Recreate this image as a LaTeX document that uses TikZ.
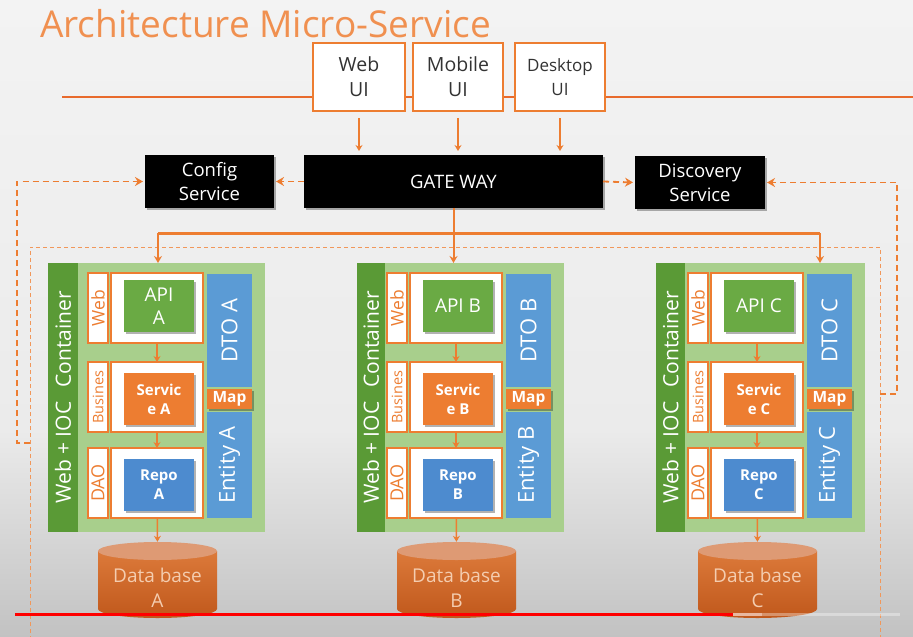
\documentclass[tikz,border=0pt]{standalone}
\usepackage{fontspec}
\setmainfont{Open Sans}
\usetikzlibrary{arrows.meta,shadows,calc,shapes.geometric}
\definecolor{orx}{HTML}{ED7D31}
\definecolor{titlec}{HTML}{F09050}
\definecolor{lineor}{HTML}{E86A2C}
\definecolor{gdark}{HTML}{5A9A36}
\definecolor{glight}{HTML}{A8CF8C}
\definecolor{gapi}{HTML}{6AAA44}
\definecolor{mblue}{HTML}{5B9BD5}
\definecolor{rblue}{HTML}{4D8BCF}
\definecolor{dbtopc}{HTML}{DC7A3A}
\definecolor{dbbotc}{HTML}{C0581C}
\definecolor{dbcapc}{HTML}{DE9A74}
\definecolor{dbtextc}{HTML}{F4CDB0}
\definecolor{bgtop}{HTML}{F3F3F3}
\definecolor{bgmid}{HTML}{EBEBEB}
\definecolor{bgbot}{HTML}{C2C2C2}
\definecolor{peach}{HTML}{E8B8A0}
\definecolor{uitext}{HTML}{333333}
\newcommand\fsz[2]{\fontsize{#1}{#2}\selectfont}
\newcommand\rb[7]{\node[#1, minimum width={(#5)-(#3)}, minimum height={(#6)-(#4)}, inner sep=0pt, outer sep=0pt] (#2) at ({((#3)+(#5))/2},{((#4)+(#6))/2}) {#7};}
\tikzset{
  shad/.style={drop shadow={shadow xshift=1.5pt, shadow yshift=-1.5pt, opacity=0.3, fill=black}},
  uibox/.style={draw=orx, line width=2.5pt, fill=white, align=center, text=uitext, font=\fsz{19.5}{25}},
  blk/.style={fill=black, text=white, align=center, font=\fsz{18.5}{24}, shad},
  contbg/.style={fill=glight},
  stripbg/.style={fill=gdark},
  striptxt/.style={rotate=90, text=white, font=\fsz{21}{21}, inner sep=0pt},
  lblbox/.style={draw=orx, line width=2pt, fill=white},
  mainbox/.style={draw=orx, line width=2pt, fill=white},
  lbltxt/.style={rotate=90, text=orx, inner sep=0pt},
  apibox/.style={fill=gapi, text=white, align=center, font=\fsz{19}{23}, shad},
  servbox/.style={fill=orx, text=white, align=center, font={\fsz{15}{19}\bfseries}, shad},
  repobox/.style={fill=rblue, text=white, align=center, font={\fsz{15}{19}\bfseries}, shad},
  bluebox/.style={fill=mblue},
  bluetxt/.style={rotate=90, text=white, font=\fsz{22}{22}, inner sep=0pt},
  mapbox/.style={fill=orx, text=white, font={\fsz{15.5}{16}\bfseries}, shad},
  dbcap/.style={ellipse, fill=dbcapc, minimum width=119pt, minimum height=18pt, inner sep=0pt},
  dbtxt/.style={text=dbtextc, align=center, font=\fsz{19}{25}},
  arr/.style={draw=orx, line width=1.5pt, -{Stealth[length=6pt,width=7pt]}},
  arrthick/.style={draw=orx, line width=2pt, -{Stealth[length=7pt,width=8pt]}},
  bus/.style={draw=orx, line width=3pt},
  dasharr/.style={draw=orx, line width=1.8pt, dash pattern=on 6pt off 4pt, -{Stealth[length=8pt,width=9pt]}},
  dashline/.style={draw=orx!80, line width=1pt, dash pattern=on 4pt off 3pt},
}
\newcommand\mscol[5]{%
 \rb{contbg}{cont#4}{#1}{263}{#3+177}{532}{}
 \rb{stripbg}{strip#4}{#1}{263}{#2}{532}{}
 \node[striptxt] (ioc#4) at (strip#4.center) {Web + IOC\hspace{0.4em} Container};
 \rb{lblbox}{lw#4}{#3}{273}{#3+20}{343}{}
 \node[lbltxt, font=\fsz{17.5}{17.5}] (lwt#4) at (lw#4.center) {Web};
 \rb{mainbox}{mw#4}{#3+23}{273}{#3+115}{343}{}
 \rb{apibox}{api#4}{#3+36}{280}{#3+106}{332}{#5}
 \rb{lblbox}{lb#4}{#3}{362}{#3+20}{432}{}
 \node[lbltxt, font=\fsz{14.5}{14.5}] (lbt#4) at (lb#4.center) {Busines};
 \rb{mainbox}{mb#4}{#3+23}{362}{#3+115}{432}{}
 \rb{servbox}{serv#4}{#3+36}{373}{#3+106}{425}{Servic\\e #4}
 \rb{lblbox}{ld#4}{#3}{448}{#3+20}{518}{}
 \node[lbltxt, font=\fsz{18}{18}] (ldt#4) at (ld#4.center) {DAO};
 \rb{mainbox}{md#4}{#3+23}{448}{#3+115}{518}{}
 \rb{repobox}{repo#4}{#3+36}{459}{#3+106}{511}{Repo\\#4}
 \rb{bluebox}{dto#4}{#3+119}{274}{#3+164}{387}{}
 \node[bluetxt] (dtot#4) at (dto#4.center) {DTO #4};
 \rb{mapbox}{map#4}{#3+119}{389}{#3+164}{409}{Map}
 \rb{bluebox}{ent#4}{#3+119}{412}{#3+164}{518}{}
 \node[bluetxt] (entt#4) at (ent#4.center) {Entity #4};
 \shade[top color=dbtopc, bottom color=dbbotc] ({#3+10},551) -- ({#3+10},609) arc[start angle=180, end angle=0, x radius=59.5, y radius=9] -- ({#3+129},551) -- cycle;
 \node[dbcap] (db#4) at ({#3+69.5},551) {};
 \node[dbtxt] (dbt#4) at ({#3+69.5},588) {Data base\\#4};
 \draw[arr] (mw#4) -- (mb#4);
 \draw[arr] (mb#4) -- (md#4);
 \draw[arr] (md#4) -- (db#4);
}
\begin{document}
\begin{tikzpicture}[x=1pt,y=-1pt]
\useasboundingbox (0,0) rectangle (913,637);
\clip (0,0) rectangle (913,637);
\shade[top color=bgtop, bottom color=bgmid] (0,0) rectangle (913,431);
\shade[top color=bgmid, bottom color=bgbot] (0,430) rectangle (913,637);
% title
\node[anchor=base west, text=titlec, font=\fsz{37}{37}, inner sep=0pt] (title) at (40,37) {Architecture Micro-Service};
% UI line and boxes
\coordinate (lineL) at (62,97);
\coordinate (lineR) at (913,97);
\draw[lineor, line width=2.5pt] (lineL) -- (lineR);
\rb{uibox}{webui}{313}{43}{405}{111}{Web\\UI}
\rb{uibox}{mobui}{413}{43}{503}{111}{Mobile\\UI}
\rb{uibox, font=\fsz{17}{24}}{deskui}{515}{43}{605}{111}{Desktop\\UI}
% black boxes
\rb{blk}{cfg}{145}{155}{274}{208}{Config\\Service}
\rb{blk}{gw}{304}{155}{603}{208}{GATE WAY}
\rb{blk}{disc}{635}{156}{765}{209}{Discovery\\Service}
\draw[arr, shorten <=7pt, shorten >=4pt] (webui.south) -- (webui.south |- gw.north);
\draw[arr, shorten <=7pt, shorten >=4pt] (mobui.south) -- (mobui.south |- gw.north);
\draw[arr, shorten <=7pt, shorten >=4pt] (deskui.south) -- (deskui.south |- gw.north);
\draw[dasharr, shorten >=2pt] (gw.west) -- (cfg.east);
\draw[dasharr, shorten >=2pt] (gw.east) -- (disc.west);
% outer dashed frame
\draw[dashline] (30,640) -- (30,247) -- (880,247) -- (880,640);
% columns
\mscol{48}{78}{88}{A}{API\\A}
\mscol{357}{385}{387}{B}{API B}
\mscol{656}{685}{688}{C}{API C}
% gateway bus
\coordinate (busL) at (158,233);
\coordinate (busR) at (820,233);
\draw[bus] (busL) -- (busR);
\draw[arrthick] (gw.south) -- (gw.south |- contB.north);
\draw[arrthick] (busL) -- (busL |- contA.north);
\draw[arrthick] (busR) -- (busR |- contC.north);
% config / discovery links
\coordinate (lj) at (30,443);
\coordinate (rj) at (880,394);
\draw[dasharr, shorten >=2pt] (lj) -- (17,443) |- (cfg.west);
\draw[dasharr, shorten >=2pt] (rj) -- (897,394) |- (disc.east);
% video progress bar
\coordinate (pb0) at (15,614);
\coordinate (pb1) at (733,614);
\coordinate (pb2) at (762,614);
\coordinate (pb3) at (900,614);
\draw[red, line width=3pt] (pb0) -- (pb1);
\draw[peach, line width=3pt] (pb1) -- (pb2);
\draw[white, opacity=0.35, line width=3pt] (pb2) -- (pb3);
\end{tikzpicture}
\end{document}
